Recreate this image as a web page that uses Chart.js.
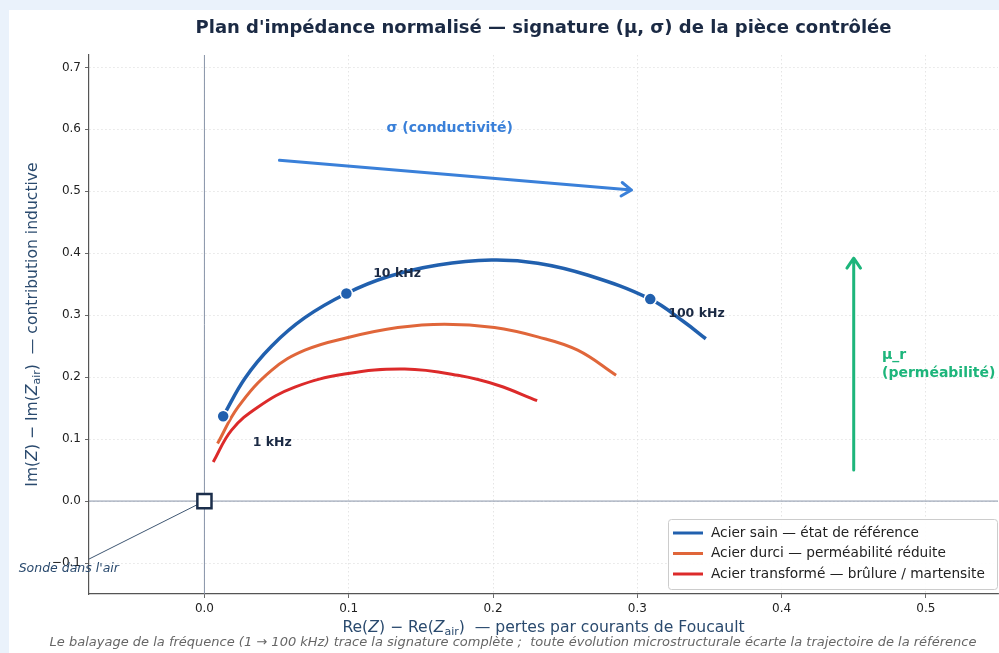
<!DOCTYPE html>
<html>
<head>
<meta charset="utf-8">
<script src="https://cdn.jsdelivr.net/npm/chart.js@4.4.1/dist/chart.umd.min.js"></script>
<style>
  html, body { margin: 0; padding: 0; background: #eaf2fb; }
  #chart { position: absolute; left: 0; top: 0; }
</style>
</head>
<body>
<canvas id="chart" width="999" height="653"></canvas>
<script>
var sainRe = [0.013, 0.028, 0.0465, 0.0696, 0.0984, 0.127, 0.162, 0.199, 0.231, 0.266, 0.309, 0.3325, 0.3475];
var sainIm = [0.137, 0.198, 0.250, 0.296, 0.335, 0.362, 0.381, 0.389, 0.384, 0.3645, 0.326, 0.289, 0.262];
var durciRe = [0.0091, 0.0234, 0.0465, 0.0696, 0.0995, 0.134, 0.1664, 0.201, 0.231, 0.2587, 0.2853];
var durciIm = [0.093, 0.152, 0.211, 0.2435, 0.264, 0.280, 0.2855, 0.280, 0.265, 0.2435, 0.203];
var transfRe = [0.0061, 0.0188, 0.0372, 0.0626, 0.0972, 0.1388, 0.1757, 0.2033, 0.2306];
var transfIm = [0.063, 0.1145, 0.152, 0.184, 0.205, 0.213, 0.203, 0.187, 0.162];

// Points de fréquence sur la courbe de référence
var freqLabels = ['1 kHz', '10 kHz', '100 kHz'];
var freqRe = [0.013, 0.0984, 0.309];
var freqIm = [0.137, 0.335, 0.326];

var seriesNames = [
  'Acier sain — état de référence',
  'Acier durci — perméabilité réduite',
  'Acier transformé — brûlure / martensite'
];
var seriesColors = ['#2160ae', '#e0663a', '#dc2a2a'];

function toPoints(xs, ys) {
  return xs.map(function (x, i) { return { x: x, y: ys[i] }; });
}

function fmtTick(v) {
  if (Math.abs(v) < 1e-9) return '0.0';
  return v < 0 ? '\u2212' + Math.abs(v).toFixed(1) : v.toFixed(1);
}

// Texte en plusieurs morceaux (pour Z italique et indice "air")
function drawRuns(ctx, runs, cx, cy) {
  var total = 0;
  runs.forEach(function (r) { ctx.font = r.font; r.w = ctx.measureText(r.text).width; total += r.w; });
  var x = cx - total / 2;
  ctx.textAlign = 'left';
  ctx.textBaseline = 'middle';
  runs.forEach(function (r) {
    ctx.font = r.font;
    ctx.fillText(r.text, x, cy + (r.dy || 0));
    x += r.w;
  });
}

function axisRuns(prefix, rest) {
  var n = '15.6px "DejaVu Sans"', it = 'italic 15.6px "DejaVu Sans"', sub = '11px "DejaVu Sans"';
  return [
    { text: prefix + '(', font: n }, { text: 'Z', font: it },
    { text: ') \u2212 ' + prefix + '(', font: n }, { text: 'Z', font: it },
    { text: 'air', font: sub, dy: 4 }, { text: ')  ' + rest, font: n }
  ];
}

function arrow(ctx, x1, y1, x2, y2, color) {
  var a = Math.atan2(y2 - y1, x2 - x1), L = 12, h = 0.6;
  ctx.save();
  ctx.strokeStyle = color;
  ctx.lineWidth = 3;
  ctx.lineCap = 'round';
  ctx.lineJoin = 'round';
  ctx.beginPath();
  ctx.moveTo(x1, y1); ctx.lineTo(x2, y2);
  ctx.moveTo(x2 - L * Math.cos(a - h), y2 - L * Math.sin(a - h));
  ctx.lineTo(x2, y2);
  ctx.lineTo(x2 - L * Math.cos(a + h), y2 - L * Math.sin(a + h));
  ctx.stroke();
  ctx.restore();
}

var decor = {
  id: 'decor',
  beforeDraw: function (chart) {
    var ctx = chart.ctx;
    ctx.save();
    ctx.fillStyle = '#eaf2fb';
    ctx.fillRect(0, 0, chart.width, chart.height);
    ctx.fillStyle = '#ffffff';
    ctx.fillRect(9, 10, chart.width - 9, chart.height - 10);
    ctx.restore();
  },
  beforeDatasetsDraw: function (chart) {
    var ctx = chart.ctx, a = chart.chartArea, sx = chart.scales.x, sy = chart.scales.y;
    ctx.save();
    ctx.beginPath();
    ctx.rect(a.left, a.top, a.right - a.left, a.bottom - a.top);
    ctx.clip();
    ctx.strokeStyle = '#8793a8';
    ctx.lineWidth = 1;
    ctx.beginPath();
    ctx.moveTo(a.left, sy.getPixelForValue(0)); ctx.lineTo(a.right, sy.getPixelForValue(0));
    ctx.moveTo(sx.getPixelForValue(0), a.top); ctx.lineTo(sx.getPixelForValue(0), a.bottom);
    ctx.stroke();
    // trait vers "Sonde dans l'air"
    ctx.strokeStyle = '#3e5672';
    ctx.beginPath();
    ctx.moveTo(sx.getPixelForValue(0), sy.getPixelForValue(0));
    ctx.lineTo(sx.getPixelForValue(-0.094), sy.getPixelForValue(-0.11));
    ctx.stroke();
    ctx.restore();
  },
  afterDatasetsDraw: function (chart) {
    var ctx = chart.ctx, sx = chart.scales.x, sy = chart.scales.y;
    function px(v) { return sx.getPixelForValue(v); }
    function py(v) { return sy.getPixelForValue(v); }

    arrow(ctx, px(0.052), py(0.55), px(0.296), py(0.502), '#3a80d9');
    arrow(ctx, px(0.45), py(0.05), px(0.45), py(0.392), '#1db57b');

    ctx.save();
    ctx.font = 'bold 14px "DejaVu Sans"';
    ctx.textBaseline = 'middle';
    ctx.textAlign = 'center';
    ctx.fillStyle = '#3a80d9';
    ctx.fillText('\u03c3 (conductivit\u00e9)', px(0.170), py(0.602));
    ctx.fillStyle = '#1db57b';
    ctx.textAlign = 'left';
    ctx.fillText('\u03bc_r', px(0.4696), py(0.2355));
    ctx.fillText('(perm\u00e9abilit\u00e9)', px(0.4696), py(0.206));

    // étiquettes de fréquence
    var lx = [0.047, 0.1335, 0.341], ly = [0.0935, 0.367, 0.303];
    ctx.font = 'bold 12.5px "DejaVu Sans"';
    ctx.fillStyle = '#1b2a44';
    ctx.textAlign = 'center';
    freqLabels.forEach(function (t, i) { ctx.fillText(t, px(lx[i]), py(ly[i])); });

    ctx.font = 'italic 12.5px "DejaVu Sans"';
    ctx.fillStyle = '#2a4a6e';
    ctx.fillText('Sonde dans l\'air', px(-0.094), py(-0.11));

    // légende
    var bx = 668, by = 519, bw = 329, bh = 70;
    ctx.fillStyle = 'rgba(255,255,255,0.9)';
    ctx.strokeStyle = '#cccccc';
    ctx.lineWidth = 1;
    ctx.beginPath();
    ctx.roundRect(bx + 0.5, by + 0.5, bw, bh, 3);
    ctx.fill();
    ctx.stroke();
    ctx.font = '13.7px "DejaVu Sans"';
    ctx.textAlign = 'left';
    seriesNames.forEach(function (name, i) {
      var yy = by + 14 + i * 20.5;
      ctx.strokeStyle = seriesColors[i];
      ctx.lineWidth = 3;
      ctx.beginPath();
      ctx.moveTo(673, yy); ctx.lineTo(703, yy);
      ctx.stroke();
      ctx.fillStyle = '#222222';
      ctx.fillText(name, 711, yy);
    });
    ctx.restore();
  },
  afterDraw: function (chart) {
    var ctx = chart.ctx, a = chart.chartArea;
    ctx.save();
    ctx.fillStyle = '#1b2a44';
    ctx.font = 'bold 18px "DejaVu Sans"';
    ctx.textAlign = 'center';
    ctx.textBaseline = 'middle';
    ctx.fillText('Plan d\'imp\u00e9dance normalis\u00e9 \u2014 signature (\u03bc, \u03c3) de la pi\u00e8ce contr\u00f4l\u00e9e', (a.left + a.right) / 2, 28);

    ctx.fillStyle = '#2a4a6e';
    drawRuns(ctx, axisRuns('Re', '\u2014 pertes par courants de Foucault'), (a.left + a.right) / 2, 628);
    ctx.save();
    ctx.translate(33, (a.top + a.bottom) / 2);
    ctx.rotate(-Math.PI / 2);
    drawRuns(ctx, axisRuns('Im', '\u2014 contribution inductive'), 0, 0);
    ctx.restore();

    ctx.fillStyle = '#666666';
    ctx.font = 'italic 13px "DejaVu Sans"';
    ctx.textAlign = 'center';
    ctx.textBaseline = 'middle';
    ctx.fillText('Le balayage de la fr\u00e9quence (1 \u2192 100 kHz) trace la signature compl\u00e8te ;  toute \u00e9volution microstructurale \u00e9carte la trajectoire de la r\u00e9f\u00e9rence', 513, 643);
    ctx.restore();
  }
};

var tickFont = { family: 'DejaVu Sans', size: 12 };

new Chart(document.getElementById('chart').getContext('2d'), {
  type: 'scatter',
  data: {
    datasets: [{
      label: 'marqueurs',
      data: toPoints(freqRe, freqIm),
      backgroundColor: seriesColors[0],
      borderColor: '#ffffff',
      borderWidth: 1.5,
      pointRadius: 6,
      order: 0
    }, {
      label: 'air',
      data: [{ x: 0, y: 0 }],
      pointStyle: 'rect',
      pointRadius: 10,
      backgroundColor: '#ffffff',
      borderColor: '#1b2e4b',
      borderWidth: 2.5,
      order: 0
    }, {
      label: seriesNames[0],
      data: toPoints(sainRe, sainIm),
      showLine: true,
      borderColor: seriesColors[0],
      borderWidth: 3.5,
      pointRadius: 0,
      tension: 0.4,
      order: 1
    }, {
      label: seriesNames[1],
      data: toPoints(durciRe, durciIm),
      showLine: true,
      borderColor: seriesColors[1],
      borderWidth: 3,
      pointRadius: 0,
      tension: 0.4,
      order: 2
    }, {
      label: seriesNames[2],
      data: toPoints(transfRe, transfIm),
      showLine: true,
      borderColor: seriesColors[2],
      borderWidth: 3,
      pointRadius: 0,
      tension: 0.4,
      order: 3
    }]
  },
  options: {
    responsive: false,
    animation: false,
    events: [],
    layout: { autoPadding: false, padding: { left: 48, right: 1, top: 55, bottom: 29 } },
    plugins: { legend: { display: false }, tooltip: { enabled: false } },
    scales: {
      x: {
        type: 'linear', min: -0.08, max: 0.55,
        ticks: { stepSize: 0.1, includeBounds: false, callback: fmtTick, font: tickFont, color: '#222', padding: 4, maxRotation: 0 },
        grid: { color: '#dedede', lineWidth: 0.8, tickColor: '#444', tickLength: 4 },
        border: { display: true, color: '#555', width: 1.2, dash: [1.5, 2.5] },
        afterFit: function (s) { s.height = 30; s.paddingLeft = 0; s.paddingRight = 0; }
      },
      y: {
        type: 'linear', min: -0.15, max: 0.72,
        ticks: { stepSize: 0.1, includeBounds: false, callback: fmtTick, font: tickFont, color: '#222', padding: 4 },
        grid: { color: '#dedede', lineWidth: 0.8, tickColor: '#444', tickLength: 4 },
        border: { display: true, color: '#555', width: 1.2, dash: [1.5, 2.5] },
        afterFit: function (s) { s.width = 41; s.paddingTop = 0; s.paddingBottom = 0; }
      }
    }
  },
  plugins: [decor]
});
</script>
</body>
</html>
